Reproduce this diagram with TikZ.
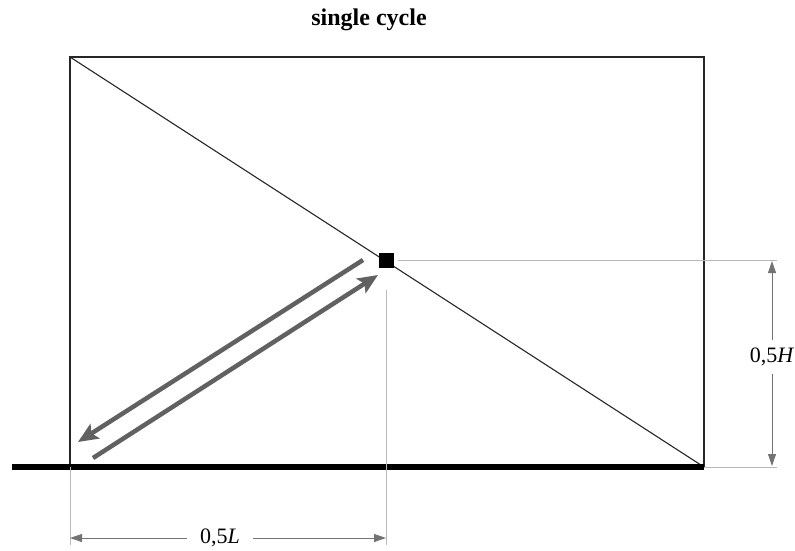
\documentclass[tikz,border=0pt]{standalone}
\usepackage{fontspec}
\setmainfont{Liberation Serif}
\usetikzlibrary{arrows.meta,positioning}

\begin{document}
\begin{tikzpicture}[
  x=1pt,y=-1pt,
  frame/.style={draw=black!85, line width=1.3pt},
  ground/.style={draw=black, line width=6pt},
  helper/.style={draw=black!28, line width=1pt},
  dim/.style={{Triangle[length=12pt,width=8pt]}-{Triangle[length=12pt,width=8pt]}, draw=black!55, line width=0.8pt},
  move/.style={-{Stealth[length=20pt,width=17pt,inset=4pt]}, draw=black!62, line width=4.5pt},
  lbl/.style={font=\fontsize{22}{26}\selectfont, fill=white, inner xsep=13pt, inner ysep=8pt}
]
\useasboundingbox (0,0) rectangle (795,550);
% frame corners and ground
\coordinate (tl) at (70,57);
\coordinate (tr) at (704,57);
\coordinate (bl) at (70,467);
\coordinate (br) at (704,467);
\coordinate (gnd) at (12,467);
% helper line ends
\coordinate (hR) at (777,260);
\coordinate (bR) at (777,467);
\coordinate (vL) at (70,545);
\coordinate (vM0) at (386,290);
\coordinate (vM) at (386,545);
% dimension ends
\coordinate (hTop) at (772,261);
\coordinate (hBot) at (772,466);
\coordinate (lA) at (70,538);
\coordinate (lB) at (386,538);
% movement ends
\coordinate (goS) at (363,260);
\coordinate (goE) at (78,442);
\coordinate (backS) at (93,458);
\coordinate (backE) at (378,275);

\node[font=\fontsize{24}{28}\selectfont\bfseries] (title) at (369,20) {single cycle};

\draw[frame] (bl) -- (tl) -- (tr) -- (br);
\draw[frame, line width=1.1pt] (tl) -- (br);
\node[fill=black, minimum size=15pt, inner sep=0pt] (mass) at (386,260) {};
\draw[ground] (gnd) -- (br);

\draw[helper] (mass.east) ++(4,0) -- (hR);
\draw[helper] (br) -- (bR);
\draw[helper] (bl) -- (vL);
\draw[helper] (vM0) -- (vM);

\draw[dim] (hTop) -- node[lbl, pos=0.47] (hLab) {0,5\textit{H}} (hBot);
\draw[dim] (lA) -- node[lbl, pos=0.475] (lLab) {0,5\textit{L}} (lB);

\draw[move] (goS) -- (goE);
\draw[move] (backS) -- (backE);
\end{tikzpicture}
\end{document}
